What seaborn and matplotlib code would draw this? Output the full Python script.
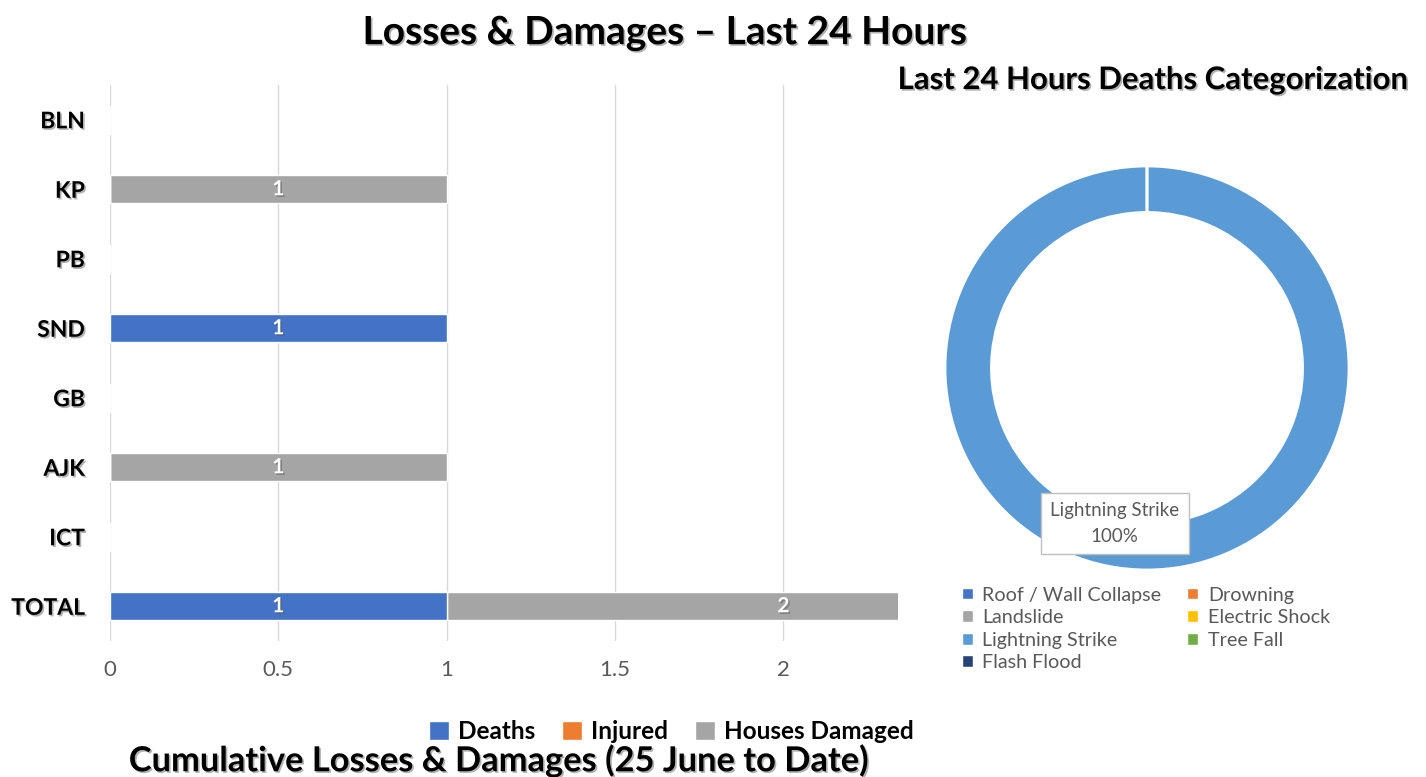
import numpy as np
import pandas as pd
import seaborn as sns
import matplotlib.pyplot as plt
import matplotlib.patheffects as pe
from matplotlib.patches import Patch

# bar chart data (last 24 hours)
regions = ["BLN", "KP", "PB", "SND", "GB", "AJK", "ICT", "TOTAL"]
deaths = [0, 0, 0, 1, 0, 0, 0, 1]
injured = [0, 0, 0, 0, 0, 0, 0, 0]
houses = [0, 1, 0, 0, 0, 1, 0, 2]
series_names = ["Deaths", "Injured", "Houses Damaged"]
series_colors = ["#4472C4", "#ED7D31", "#A5A5A5"]
x_ticks = [0, 0.5, 1, 1.5, 2]
x_max = 2.34

# donut data (deaths categorization)
causes = ["Roof / Wall Collapse", "Drowning", "Landslide", "Electric Shock",
          "Lightning Strike", "Tree Fall", "Flash Flood"]
cause_deaths = [0, 0, 0, 0, 1, 0, 0]
cause_colors = ["#4472C4", "#ED7D31", "#A5A5A5", "#FFC000",
                "#5B9BD5", "#70AD47", "#264478"]

sns.set_theme(style="white")
plt.rcParams['font.family'] = ['Lato', 'DejaVu Sans']
plt.rcParams['text.color'] = 'black'

shadow = [pe.withSimplePatchShadow(offset=(1.2, -1.2), shadow_rgbFace='#555555', alpha=0.45)]

fig = plt.figure(figsize=(14.26, 7.77), dpi=100)
ax = fig.add_axes([0.0771, 0.175, 0.5526, 0.7156])

df = pd.DataFrame({"region": regions, "Deaths": deaths,
                   "Injured": injured, "Houses Damaged": houses})
cum = df[series_names].cumsum(axis=1)

# draw stacked bars back to front as cumulative totals
for name, color in reversed(list(zip(series_names, series_colors))):
    sns.barplot(data=cum.assign(region=regions), x=name, y=regions, orient="h",
                color=color, width=0.4, ax=ax, saturation=1)

starts = cum.shift(1, axis=1).fillna(0)
for name in series_names:
    for i, v in enumerate(df[name]):
        if v > 0:
            ax.text(starts.loc[i, name] + v / 2, i, f"{v:g}", ha="center", va="center",
                    color="white", fontsize=15, fontweight="bold", path_effects=shadow)

ax.set_xlim(0, x_max)
ax.set_ylim(len(regions) - 0.5, -0.5)
ax.set_xticks(x_ticks)
ax.set_xticklabels([f"{t:g}" for t in x_ticks])
ax.xaxis.grid(True, color="#D9D9D9", linewidth=1)
ax.set_axisbelow(True)
for s in ax.spines.values():
    s.set_visible(False)
ax.set_xlabel("")
ax.set_ylabel("")
ax.tick_params(axis="x", colors="#595959", labelsize=16, pad=14, length=0)
ax.tick_params(axis="y", labelsize=16.5, pad=18, length=0)
for lbl in ax.get_yticklabels():
    lbl.set_fontweight("bold")
    lbl.set_color("black")
    lbl.set_path_effects(shadow)

fig.text(0.466, 0.958, "Losses & Damages – Last 24 Hours", ha="center", va="center",
         fontsize=28, fontweight="bold", path_effects=shadow)
fig.text(0.35, 0.021, "Cumulative Losses & Damages (25 June to Date)", ha="center",
         va="center", fontsize=24.8, fontweight="bold", path_effects=shadow)

bar_handles = [Patch(facecolor=c, label=n) for n, c in zip(series_names, series_colors)]
leg = fig.legend(handles=bar_handles, loc="center", bbox_to_anchor=(0.471, 0.059), ncol=3,
                 frameon=False, handlelength=0.8, handleheight=0.8, handletextpad=0.4,
                 columnspacing=1.1, prop={"size": 17.5, "weight": "bold"})

# donut
ax2 = fig.add_axes([0.6627, 0.2664, 0.2833, 0.52])
wedges, _ = ax2.pie(cause_deaths, colors=cause_colors, startangle=90, counterclock=False,
                    radius=1, wedgeprops=dict(width=0.23, edgecolor="white", linewidth=2))
ax2.set_xlim(-1, 1)
ax2.set_ylim(-1, 1)
ax2.set_aspect("equal")
idx = int(np.argmax(cause_deaths))
pct = cause_deaths[idx] / sum(cause_deaths) * 100
ax2.text(-0.16, -0.77, f"{causes[idx]}\n{pct:.0f}%", ha="center", va="center",
         fontsize=13.5, color="#595959", linespacing=1.6,
         bbox=dict(boxstyle="square,pad=0.5", facecolor="white", edgecolor="#BFBFBF"))

fig.text(0.8085, 0.897, "Last 24 Hours Deaths Categorization", ha="center", va="center",
         fontsize=22.4, fontweight="bold", path_effects=shadow)

# legend ordered row-wise like the original
order = [0, 2, 4, 6, 1, 3, 5]
cause_handles = [Patch(facecolor=cause_colors[i], label=causes[i]) for i in order]
fig.legend(handles=cause_handles, loc="upper left", bbox_to_anchor=(0.662, 0.268), ncol=2,
           frameon=False, handlelength=0.55, handleheight=0.55, handletextpad=0.5,
           columnspacing=1.3, labelspacing=0.28, labelcolor="#595959",
           prop={"size": 14.2})

fig.savefig("out.png", dpi=100)
